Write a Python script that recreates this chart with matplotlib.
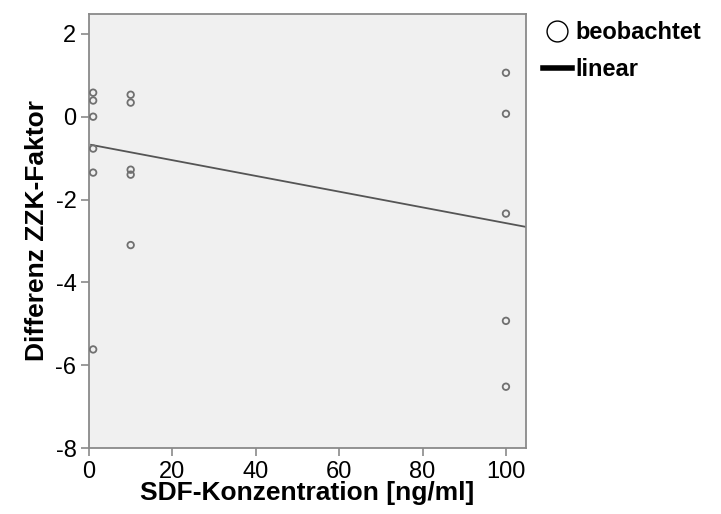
import matplotlib.pyplot as plt
import numpy as np
from matplotlib.lines import Line2D

plt.rcParams['font.family'] = ['Liberation Sans', 'DejaVu Sans']
plt.rcParams['axes.unicode_minus'] = False

# beobachtete Werte (SDF-Konzentration, Differenz ZZK-Faktor)
x_obs = [1, 1, 1, 1, 1, 1,
         10, 10, 10, 10, 10,
         100, 100, 100, 100, 100]
y_obs = [0.58, 0.39, 0.0, -0.77, -1.35, -5.62,
         0.53, 0.34, -1.28, -1.40, -3.10,
         1.06, 0.07, -2.34, -4.93, -6.52]

# lineare Anpassung
fit_intercept = -0.67
fit_slope = -0.019

xticks = [0, 20, 40, 60, 80, 100]
yticks = [2, 0, -2, -4, -6, -8]

fig = plt.figure(figsize=(7.21, 5.14), dpi=100)
ax = fig.add_axes([0.1234, 0.1284, 0.6061, 0.8444])
ax.set_facecolor('#f0f0f0')

ax.set_xlim(0.5, 104.8)
ax.set_ylim(-8, 2.48)

xs = np.array(ax.get_xlim())
ax.plot(xs, fit_intercept + fit_slope * xs, color='#555555', lw=1.3, zorder=2)
ax.scatter(x_obs, y_obs, s=22, facecolors='none', edgecolors='#707070',
           linewidths=1.3, zorder=3)

for s in ax.spines.values():
    s.set_color('#8a8a8a')
    s.set_linewidth(1.3)

ax.set_xticks(xticks)
ax.set_yticks(yticks)
ax.tick_params(direction='out', length=6, width=1.2, color='#8a8a8a',
               labelsize=17, pad=3)

ax.set_xlabel('SDF-Konzentration [ng/ml]', fontsize=19, fontweight='bold',
              labelpad=-1)
ax.set_ylabel('Differenz ZZK-Faktor', fontsize=19, fontweight='bold',
              labelpad=5)

h1 = Line2D([], [], marker='o', ls='none', markersize=15,
            markerfacecolor='white', markeredgecolor='black', markeredgewidth=1)
h2 = Line2D([], [], color='black', lw=4)
fig.legend([h1, h2], ['beobachtet', 'linear'], loc='upper left',
           bbox_to_anchor=(0.723, 1.0), frameon=False, handlelength=1.25,
           handletextpad=0.15, labelspacing=0.6,
           prop={'weight': 'bold', 'size': 17})

plt.savefig('out.png', dpi=100)
